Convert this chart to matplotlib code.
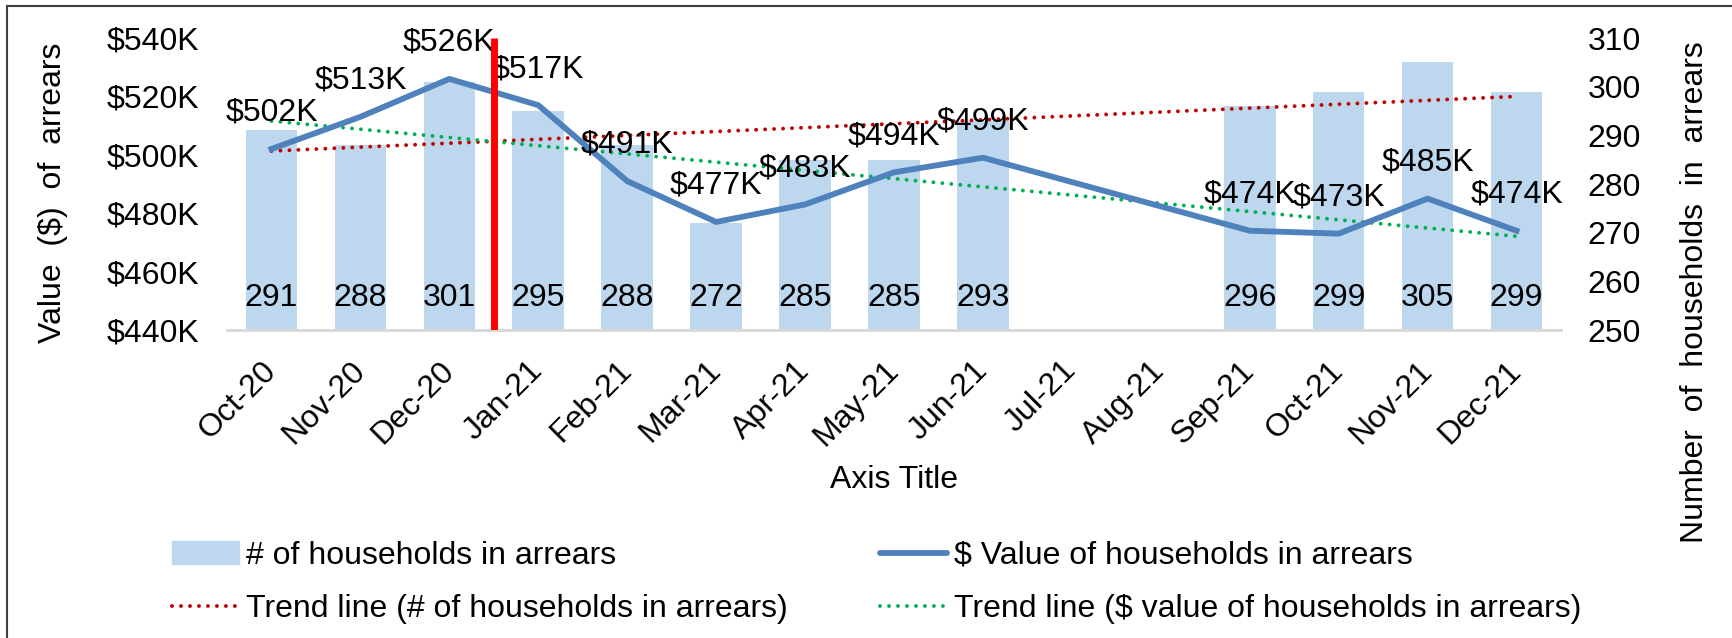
import numpy as np
import matplotlib.pyplot as plt
from matplotlib.lines import Line2D

plt.rcParams['font.family'] = ['Liberation Sans', 'DejaVu Sans']

months = ['Oct-20', 'Nov-20', 'Dec-20', 'Jan-21', 'Feb-21', 'Mar-21', 'Apr-21',
          'May-21', 'Jun-21', 'Jul-21', 'Aug-21', 'Sep-21', 'Oct-21', 'Nov-21', 'Dec-21']
households = [291, 288, 301, 295, 288, 272, 285, 285, 293, np.nan, np.nan, 296, 299, 305, 299]
arrears_k = [502, 513, 526, 517, 491, 477, 483, 494, 499, np.nan, np.nan, 474, 473, 485, 474]
divider_after = 'Dec-20'

hh = np.array(households, dtype=float)
val = np.array(arrears_k, dtype=float)
x = np.arange(len(months))
ok = ~np.isnan(val)

bar_col = '#BDD7EE'
line_col = '#4F81BD'
fs = 23

fig = plt.figure(figsize=(17.32, 6.38), dpi=100)
ax = fig.add_axes([227/1732, 1 - 330/638, (1561-227)/1732, (330-38)/638])
ax2 = ax.twinx()

# bars (right axis)
ax.bar(x[ok], hh[ok], width=0.58, color=bar_col, zorder=1)
ax.set_ylim(250, 310)
ax.set_yticks(np.arange(250, 311, 10))
ax.yaxis.tick_right()
ax.set_xlim(-0.5, len(months) - 0.5)
for xi, v in zip(x[ok], hh[ok]):
    ax.annotate(f'{v:.0f}', (xi, 250), xytext=(0, 23), textcoords='offset points',
                ha='center', va='center', fontsize=fs)

# trend of households
p = np.polyfit(x[ok], hh[ok], 1)
xt = np.array([x[ok][0], x[ok][-1]])
ax.plot(xt, np.polyval(p, xt), color='#C00000', lw=2.8, ls=(0, (0.01, 2.3)),
        dash_capstyle='round', zorder=3)

# $ line (left axis)
ax2.plot(x[ok], val[ok], color=line_col, lw=4.2, solid_joinstyle='round', zorder=3)
q = np.polyfit(x[ok], val[ok], 1)
ax2.plot(xt, np.polyval(q, xt), color='#00B050', lw=2.8, ls=(0, (0.01, 2.3)),
         dash_capstyle='round', zorder=2)
for xi, v in zip(x[ok], val[ok]):
    ax2.annotate(f'${v:.0f}K', (xi, v), xytext=(0, 26), textcoords='offset points',
                 ha='center', va='center', fontsize=fs)
ax2.set_ylim(440, 540)
ax2.set_yticks(np.arange(440, 541, 20))
ax2.set_yticklabels([f'${t}K' for t in range(440, 541, 20)])
ax2.yaxis.tick_left()

# red divider
xd = months.index(divider_after) + 0.5
ax2.plot([xd, xd], [440, 540], color='#FF0000', lw=5, solid_capstyle='butt', zorder=5)

for a in (ax, ax2):
    for s in ('top', 'left', 'right'):
        a.spines[s].set_visible(False)
    a.spines['bottom'].set_color('#D9D9D9')
    a.spines['bottom'].set_linewidth(2)
    a.tick_params(length=0, labelsize=fs)
ax.tick_params(axis='y', pad=19)
ax2.tick_params(axis='y', pad=20)

ax.set_xticks(x)
ax.set_xticklabels(months, rotation=45, ha='right', va='center', rotation_mode='anchor')
ax.tick_params(axis='x', pad=26)
ax.set_xlabel('Axis Title', fontsize=fs, labelpad=9)

fig.text(53/1732, 1 - 193/638, 'Value  ($)  of  arrears', rotation=90,
         ha='center', va='center', fontsize=fs)
fig.text(1695/1732, 1 - 292/638, 'Number  of  households  in  arrears', rotation=90,
         ha='center', va='center', fontsize=fs)

handles = [plt.Rectangle((0, 0), 1, 1, color=bar_col),
           Line2D([], [], color='#C00000', lw=2.8, ls=(0, (0.01, 2.3)), dash_capstyle='round'),
           Line2D([], [], color=line_col, lw=4.2, solid_capstyle='round'),
           Line2D([], [], color='#00B050', lw=2.8, ls=(0, (0.01, 2.3)), dash_capstyle='round')]
labels = ['# of households in arrears', 'Trend line (# of households in arrears)',
          '$ Value of households in arrears', 'Trend line ($ value of households in arrears)']
fig.legend(handles, labels, ncol=2, loc='upper left', bbox_to_anchor=(143/1732, 1 - 512/638),
           frameon=False, fontsize=fs, handlelength=2.1, handletextpad=0.22,
           columnspacing=2.9, labelspacing=0.72)

# outer border
fig.add_artist(Line2D([7/1732, 7/1732], [0, 1 - 6/638], color='#404040', lw=1.5))
fig.add_artist(Line2D([7/1732, 1], [1 - 6/638, 1 - 6/638], color='#404040', lw=1.5))

fig.savefig('out.png', dpi=100)
